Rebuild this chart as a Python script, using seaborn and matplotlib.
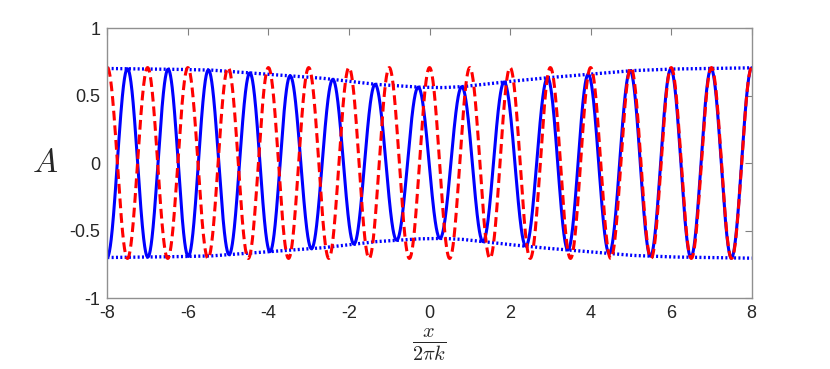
import numpy as np
import pandas as pd
import matplotlib
matplotlib.use("Agg")
import matplotlib.pyplot as plt
import seaborn as sns

# ---- data ----
x_ticks = [-8, -6, -4, -2, 0, 2, 4, 6, 8]
x_tick_labels = ["-8", "-6", "-4", "-2", "0", "2", "4", "6", "8"]
y_ticks = [-1, -0.5, 0, 0.5, 1]
y_tick_labels = ["-1", "-0.5", "0", "0.5", "1"]

# red dashed wave: constant amplitude, crests at these x positions
red_amp = 0.707
red_crest_x = [-8, -7, -6, -5, -4, -3, -2, -1, 0, 1, 2, 3, 4, 5, 6, 7, 8]

# blue solid wave: crest positions
blue_crest_x = [-7.5, -6.49, -5.49, -4.46, -3.46, -2.40, -1.35, -0.28,
                0.80, 1.85, 2.93, 3.94, 4.98, 5.99, 6.99, 8.0]

# blue envelope (dotted lines, drawn as +env and -env)
env_x = [-8.0, -6.5, -5.46, -2.72, -1.36, -0.3, 0.3, 0.8, 1.85, 2.75, 5.0, 6.0, 8.0]
env_y = [0.700, 0.695, 0.689, 0.630, 0.583, 0.562, 0.558, 0.565, 0.600, 0.627, 0.684, 0.696, 0.705]

# ---- build curves ----
xs = np.linspace(-8, 8, 3000)

def crest_phase(x, crest):
    crest = np.asarray(crest, float)
    idx = np.arange(len(crest), dtype=float)
    # linear extension beyond first/last crest
    c = np.concatenate([[crest[0] - (crest[1] - crest[0])], crest,
                        [crest[-1] + (crest[-1] - crest[-2])]])
    i = np.concatenate([[-1.0], idx, [len(crest)]])
    return 2 * np.pi * np.interp(x, c, i)

env = np.interp(xs, env_x, env_y)
blue = env * np.cos(crest_phase(xs, blue_crest_x))
red = red_amp * np.cos(crest_phase(xs, red_crest_x))

df = pd.DataFrame({"x": xs, "blue": blue, "red": red, "env_up": env, "env_dn": -env})

# ---- plot ----
sns.set_style("white")
plt.rcParams["font.family"] = ["Liberation Sans", "DejaVu Sans"]
plt.rcParams["mathtext.fontset"] = "cm"
plt.rcParams["axes.unicode_minus"] = False

fig = plt.figure(figsize=(8.3, 3.69), dpi=100)
ax = fig.add_axes([0.1293, 0.1924, 0.7764, 0.7317])

sns.lineplot(data=df, x="x", y="env_up", ax=ax, color="#0000ff", lw=2.4,
             linestyle=(0, (0.6, 0.7)), sort=False, estimator=None)
sns.lineplot(data=df, x="x", y="env_dn", ax=ax, color="#0000ff", lw=2.4,
             linestyle=(0, (0.6, 0.7)), sort=False, estimator=None)
sns.lineplot(data=df, x="x", y="blue", ax=ax, color="#0000ff", lw=2.2,
             sort=False, estimator=None)
sns.lineplot(data=df, x="x", y="red", ax=ax, color="#ff0000", lw=2.2,
             linestyle=(0, (3.2, 1.6)), sort=False, estimator=None)

ax.set_xlim(-8, 8)
ax.set_ylim(-1, 1)
ax.set_xticks(x_ticks)
ax.set_xticklabels(x_tick_labels)
ax.set_yticks(y_ticks)
ax.set_yticklabels(y_tick_labels)
ax.tick_params(direction="in", length=5, width=0.8, colors="#808080",
               labelcolor="#262626", labelsize=13, top=True, right=True, pad=5)
for s in ax.spines.values():
    s.set_color("#909090")
    s.set_linewidth(1.0)

ax.set_ylabel("$A$", rotation=0, fontsize=24, color="#262626")
ax.yaxis.set_label_coords(-0.097, 0.5)
ax.yaxis.label.set_va("center")
ax.yaxis.label.set_ha("center")
ax.set_xlabel(r"$\frac{x}{2\pi k}$", fontsize=21, color="#262626")
ax.xaxis.set_label_coords(0.5, -0.172)
ax.xaxis.label.set_va("center")

fig.savefig("out.png", dpi=100)
